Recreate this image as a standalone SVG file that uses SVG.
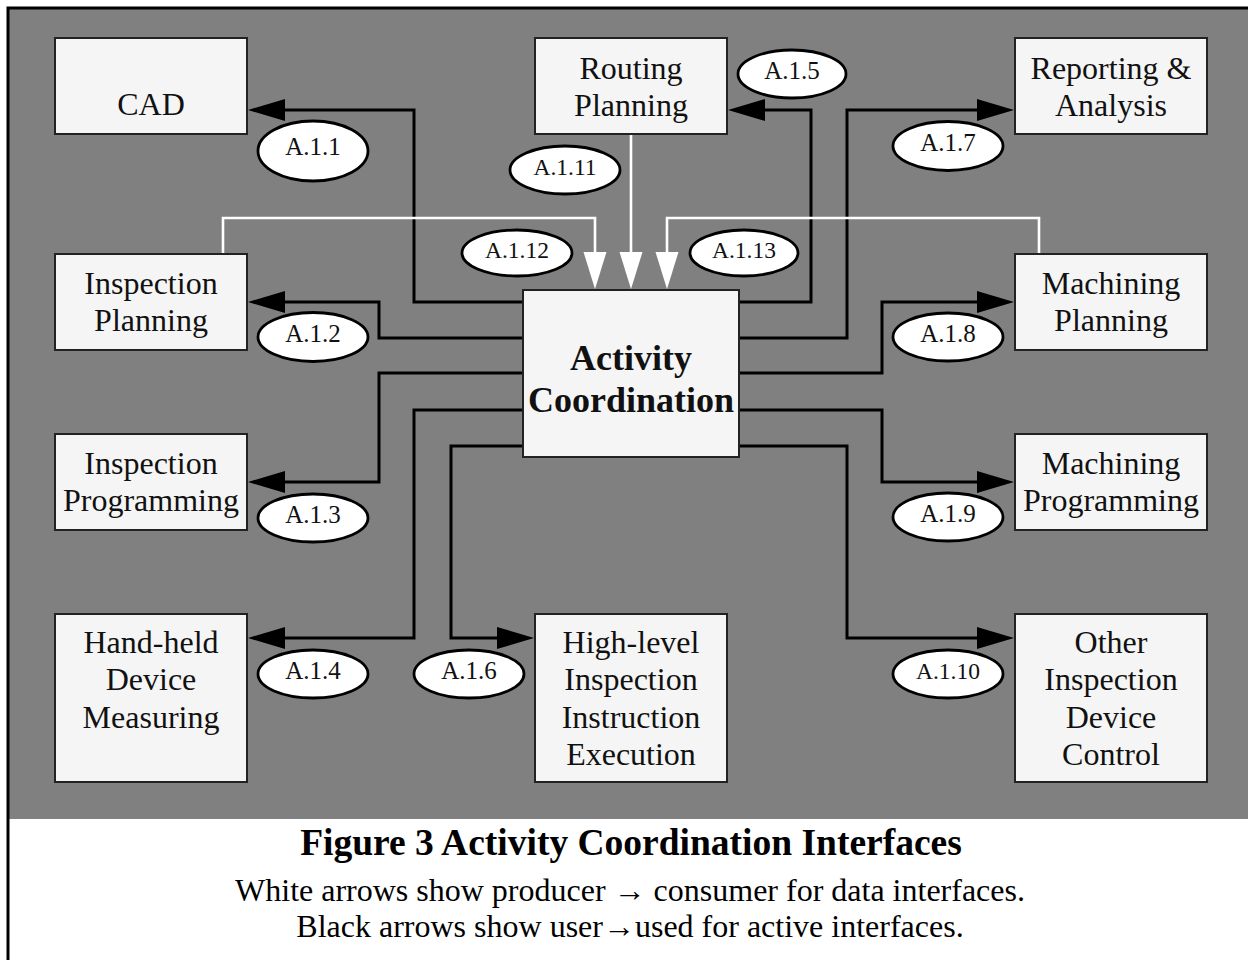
<svg xmlns="http://www.w3.org/2000/svg" width="1248" height="960" viewBox="0 0 1248 960">
  <defs>
    <style>
      .box { fill: #f5f5f5; stroke: #222; stroke-width: 2; }
      .lbl { font-family: "Liberation Serif", "Times New Roman", serif; font-size: 32px; fill: #111; text-anchor: middle; }
      .bold { font-weight: bold; font-size: 36px; }
      .ell { fill: #fff; stroke: #000; stroke-width: 2.8; }
      .etx { font-family: "Liberation Serif", "Times New Roman", serif; font-size: 25px; fill: #111; text-anchor: middle; }
      .etx6 { font-size: 23.5px; }
      .blk { fill: none; stroke: #000; stroke-width: 3; marker-end: url(#ab); }
      .wht { fill: none; stroke: #fff; stroke-width: 2.6; marker-end: url(#aw); }
      .cap { font-family: "Liberation Serif", "Times New Roman", serif; fill: #000; text-anchor: middle; }
    </style>
    <marker id="ab" markerUnits="userSpaceOnUse" markerWidth="38" markerHeight="22" refX="0" refY="11" orient="auto" overflow="visible">
      <path d="M0,0 L37,11 L0,22 z" fill="#000"/>
    </marker>
    <marker id="aw" markerUnits="userSpaceOnUse" markerWidth="38" markerHeight="24" refX="0" refY="11.5" orient="auto" overflow="visible">
      <path d="M0,0 L37,11.5 L0,23 z" fill="#fff"/>
    </marker>
  </defs>

  <rect x="0" y="0" width="1248" height="960" fill="#fff"/>
  <rect x="8" y="8" width="1260" height="811" fill="#808080"/>
  <rect x="8" y="8" width="1260" height="970" fill="none" stroke="#000" stroke-width="3"/>

  <g id="connectors">
    <path class="blk" d="M523,302 H414 V110 H285"/>
    <path class="blk" d="M523,338 H379 V302 H285"/>
    <path class="blk" d="M523,373 H379 V482 H285"/>
    <path class="blk" d="M523,410 H414 V638 H285"/>
    <path class="blk" d="M523,446 H451 V638 H497"/>
    <path class="blk" d="M739,302 H811 V110 H765"/>
    <path class="blk" d="M739,338 H847 V110 H977"/>
    <path class="blk" d="M739,373 H882 V302 H977"/>
    <path class="blk" d="M739,410 H882 V482 H977"/>
    <path class="blk" d="M739,446 H847 V638 H977"/>
    <path class="wht" d="M631,134 V252"/>
    <path class="wht" d="M223,254 V218 H595 V252"/>
    <path class="wht" d="M1039,254 V218 H667 V252"/>
  </g>

  <g id="cad">
    <rect class="box" x="55" y="38" width="192" height="96"/>
    <text class="lbl" x="151" y="115">CAD</text>
  </g>
  <g id="routing-planning">
    <rect class="box" x="535" y="38" width="192" height="96"/>
    <text class="lbl" x="631" y="79">Routing</text>
    <text class="lbl" x="631" y="116">Planning</text>
  </g>
  <g id="reporting-analysis">
    <rect class="box" x="1015" y="38" width="192" height="96"/>
    <text class="lbl" x="1111" y="79">Reporting &amp;</text>
    <text class="lbl" x="1111" y="116">Analysis</text>
  </g>
  <g id="inspection-planning">
    <rect class="box" x="55" y="254" width="192" height="96"/>
    <text class="lbl" x="151" y="294">Inspection</text>
    <text class="lbl" x="151" y="331">Planning</text>
  </g>
  <g id="machining-planning">
    <rect class="box" x="1015" y="254" width="192" height="96"/>
    <text class="lbl" x="1111" y="294">Machining</text>
    <text class="lbl" x="1111" y="331">Planning</text>
  </g>
  <g id="activity-coordination">
    <rect class="box" x="523" y="290" width="216" height="167"/>
    <text class="lbl bold" x="631" y="370">Activity</text>
    <text class="lbl bold" x="631" y="412">Coordination</text>
  </g>
  <g id="inspection-programming">
    <rect class="box" x="55" y="434" width="192" height="96"/>
    <text class="lbl" x="151" y="474">Inspection</text>
    <text class="lbl" x="151" y="511">Programming</text>
  </g>
  <g id="machining-programming">
    <rect class="box" x="1015" y="434" width="192" height="96"/>
    <text class="lbl" x="1111" y="474">Machining</text>
    <text class="lbl" x="1111" y="511">Programming</text>
  </g>
  <g id="hand-held">
    <rect class="box" x="55" y="614" width="192" height="168"/>
    <text class="lbl" x="151" y="653">Hand-held</text>
    <text class="lbl" x="151" y="690">Device</text>
    <text class="lbl" x="151" y="728">Measuring</text>
  </g>
  <g id="high-level">
    <rect class="box" x="535" y="614" width="192" height="168"/>
    <text class="lbl" x="631" y="653">High-level</text>
    <text class="lbl" x="631" y="690">Inspection</text>
    <text class="lbl" x="631" y="728">Instruction</text>
    <text class="lbl" x="631" y="765">Execution</text>
  </g>
  <g id="other-inspection">
    <rect class="box" x="1015" y="614" width="192" height="168"/>
    <text class="lbl" x="1111" y="653">Other</text>
    <text class="lbl" x="1111" y="690">Inspection</text>
    <text class="lbl" x="1111" y="728">Device</text>
    <text class="lbl" x="1111" y="765">Control</text>
  </g>

  <g id="labels">
    <g id="a111"><ellipse class="ell" cx="313" cy="151" rx="55" ry="30"/><text class="etx" x="313" y="155">A.1.1</text></g>
    <g id="a112"><ellipse class="ell" cx="313" cy="337" rx="55" ry="24.5"/><text class="etx" x="313" y="342">A.1.2</text></g>
    <g id="a113"><ellipse class="ell" cx="313" cy="518" rx="55" ry="24"/><text class="etx" x="313" y="523">A.1.3</text></g>
    <g id="a114"><ellipse class="ell" cx="313" cy="674" rx="55" ry="24"/><text class="etx" x="313" y="679">A.1.4</text></g>
    <g id="a115"><ellipse class="ell" cx="792" cy="74" rx="54" ry="24"/><text class="etx" x="792" y="79">A.1.5</text></g>
    <g id="a116"><ellipse class="ell" cx="469" cy="674" rx="55" ry="24"/><text class="etx" x="469" y="679">A.1.6</text></g>
    <g id="a117"><ellipse class="ell" cx="948" cy="146" rx="55" ry="24.5"/><text class="etx" x="948" y="151">A.1.7</text></g>
    <g id="a118"><ellipse class="ell" cx="948" cy="337" rx="55" ry="24"/><text class="etx" x="948" y="342">A.1.8</text></g>
    <g id="a119"><ellipse class="ell" cx="948" cy="517" rx="55" ry="24"/><text class="etx" x="948" y="522">A.1.9</text></g>
    <g id="a1110"><ellipse class="ell" cx="948" cy="674" rx="55" ry="24"/><text class="etx etx6" x="948" y="679">A.1.10</text></g>
    <g id="a1111"><ellipse class="ell" cx="565" cy="170" rx="55" ry="24"/><text class="etx etx6" x="565" y="175">A.1.11</text></g>
    <g id="a1112"><ellipse class="ell" cx="517" cy="253" rx="55" ry="23"/><text class="etx etx6" x="517" y="258">A.1.12</text></g>
    <g id="a1113"><ellipse class="ell" cx="744" cy="253" rx="54" ry="23"/><text class="etx etx6" x="744" y="258">A.1.13</text></g>
  </g>

  <g id="caption">
    <text class="cap" x="631" y="855" font-size="37.5" font-weight="bold">Figure 3 Activity Coordination Interfaces</text>
    <text class="cap" x="630" y="901" font-size="32">White arrows show producer → consumer for data interfaces.</text>
    <text class="cap" x="630" y="937" font-size="32">Black arrows show user→used for active interfaces.</text>
  </g>
</svg>
